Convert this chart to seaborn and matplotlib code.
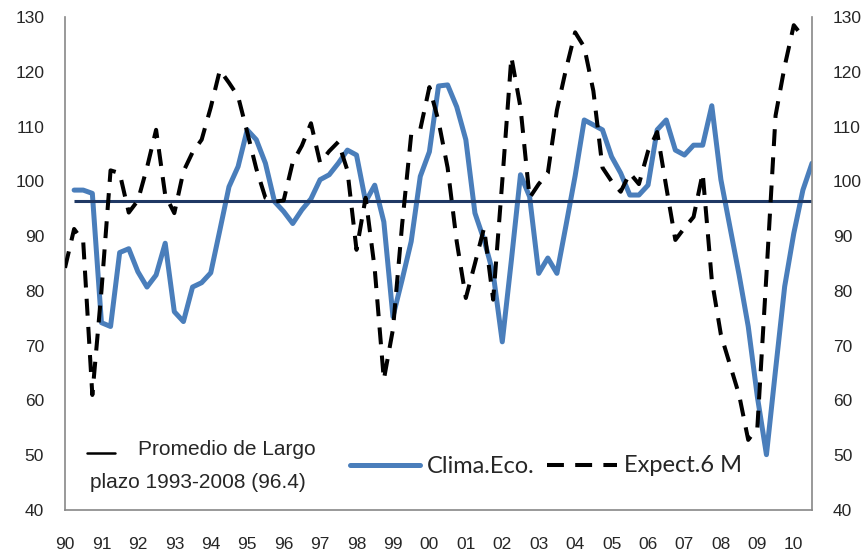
import numpy as np
import pandas as pd
import matplotlib
matplotlib.use("Agg")
import matplotlib.pyplot as plt
import seaborn as sns
from matplotlib.lines import Line2D
from matplotlib.ticker import MultipleLocator

sns.set_style("white")
plt.rcParams['font.family'] = ['Liberation Sans', 'DejaVu Sans']

# ── Datos trimestrales 1990T1 - 2010T3 ─────────────────────
clima = [np.nan,
         98.4, 98.4, 97.8, 74.2, 73.5, 87.0, 87.7, 83.5, 80.7, 82.9,
         88.7, 76.2, 74.4, 80.7, 81.5, 83.3, 91.1, 99.0, 102.7, 109.4,
         107.6, 103.3, 96.3, 94.5, 92.3, 94.8, 96.8, 100.3, 101.2, 103.3,
         105.7, 104.8, 96.3, 99.3, 92.6, 75.3, 82.0, 89.0, 100.9, 105.4,
         117.4, 117.6, 113.6, 107.6, 94.2, 89.3, 83.2, 70.7, 85.6, 101.2,
         97.2, 83.2, 86.0, 83.2, 92.0, 101.0, 111.2, 110.3, 109.4, 104.5,
         101.5, 97.5, 97.5, 99.3, 109.4, 111.2, 105.7, 104.8, 106.6, 106.6,
         113.8, 100.3, 91.6, 82.9, 73.5, 60.7, 50.1, 65.6, 80.8, 90.5,
         98.4, 103.3]
expect = [84.2,
          91.3, 89.0, 61.0, 80.0, 102.0, 101.5, 94.3, 96.5, 102.5, 109.4,
          97.5, 94.2, 101.8, 105.3, 107.6, 113.5, 120.3, 118.0, 115.5, 109.0,
          102.3, 97.0, 96.3, 96.5, 103.5, 106.5, 110.6, 103.4, 105.5, 107.2,
          102.0, 87.5, 97.0, 84.0, 63.8, 73.0, 92.0, 108.5, 109.5, 117.2,
          111.0, 102.5, 89.0, 78.7, 85.0, 91.5, 78.4, 100.0, 122.7, 113.5,
          97.0, 99.5, 101.5, 113.0, 120.5, 127.2, 124.5, 116.5, 102.5, 100.0,
          98.1, 101.5, 99.5, 105.5, 109.0, 99.0, 89.3, 91.5, 93.5, 101.5,
          82.0, 72.0, 66.5, 61.0, 52.8, 55.0, 83.0, 112.0, 121.0, 128.5,
          126.4, np.nan]
promedio = 96.4
years = list(range(1990, 2011))
year_labels = [f"{y % 100:02d}" for y in years]

t = 1990 + np.arange(len(clima)) / 4
df = pd.DataFrame({"t": t, "clima": clima, "expect": expect})

W, H = 863, 553
fig = plt.figure(figsize=(W / 100, H / 100), dpi=100)
ax = fig.add_axes([65 / W, 1 - 510 / H, (812 - 65) / W, (510 - 17) / H])

blue = "#4A7EBB"
navy = "#1F3864"
gris = "#878787"
lw_blue, lw_dash = 3.6, 2.9
dash = [4.2, 2.8]

sns.lineplot(data=df, x="t", y="clima", ax=ax, color=blue, lw=lw_blue, zorder=2)
ax.hlines(promedio, t[1], t[-1], color=navy, lw=2.2, zorder=3)
sns.lineplot(data=df, x="t", y="expect", ax=ax, color="black", lw=lw_dash, zorder=4)
ax.lines[-1].set_dashes(dash)

ax.set_xlim(t[0], t[-1])
ax.set_ylim(40, 130)
ax.set_xlabel(""); ax.set_ylabel("")
ax.set_xticks(years)
ax.set_xticklabels(year_labels)
ax.xaxis.set_minor_locator(MultipleLocator(0.25))
ax.set_yticks(range(40, 131, 10))
ax.tick_params(axis="x", which="both", direction="out", length=2.3,
               width=1, color=gris, pad=17, labelsize=12.5)
ax.tick_params(axis="y", length=0, pad=15, labelsize=12.5)

ax2 = ax.twinx()
ax2.set_ylim(40, 130)
ax2.set_yticks(range(40, 131, 10))
ax2.tick_params(axis="y", length=0, pad=15, labelsize=12.5)

for a in (ax, ax2):
    a.spines["top"].set_visible(False)
    for s in ("left", "right", "bottom"):
        a.spines[s].set_color(gris)
        a.spines[s].set_linewidth(1.2)
ax.spines["right"].set_visible(False)
ax2.spines["left"].set_visible(False)
ax2.spines["bottom"].set_visible(False)

# ── Leyenda ────────────────────────────────────────────────
def fx(x): return x / W
def fy(y): return 1 - y / H

fig.add_artist(Line2D([fx(87), fx(115)], [fy(453), fy(453)], color="black", lw=1.8))
fig.text(fx(138), fy(455), "Promedio de Largo", fontsize=15, va="baseline")
fig.text(fx(90), fy(488), "plazo 1993-2008 (96.4)", fontsize=15, va="baseline")

fig.add_artist(Line2D([fx(350), fx(420)], [fy(465), fy(465)], color=blue, lw=lw_blue))
fig.text(fx(427), fy(473), "Clima.Eco.", fontsize=17, va="baseline",
         family=["Lato", "DejaVu Sans"])
fig.add_artist(Line2D([fx(547), fx(617)], [fy(465), fy(465)], color="black",
                      lw=lw_dash, dashes=dash))
fig.text(fx(624), fy(472), "Expect.6 M", fontsize=17, va="baseline",
         family=["Lato", "DejaVu Sans"])

plt.savefig("out.png", dpi=100)
plt.close()
